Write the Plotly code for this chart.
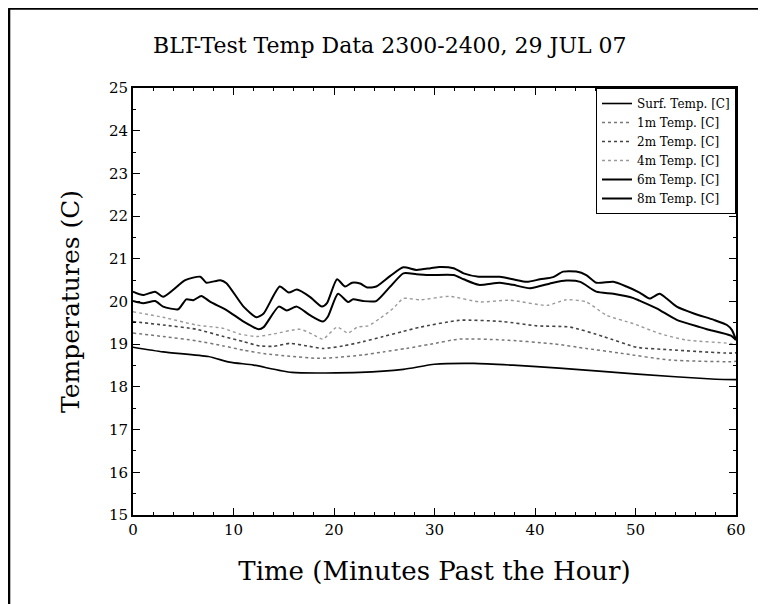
import plotly.graph_objects as go

# ---- data ----
t_8m = [0, 1.0, 2.2, 3.0, 5.2, 6.7, 7.3, 8.7, 9.3, 11.0, 12.3, 13.0, 14.6, 15.5, 16.3, 17.6, 18.8, 19.3,
        20.3, 21.1, 21.8, 22.6, 23.3, 24.2, 25.6, 26.9, 28.2, 29.6, 30.5, 31.9, 32.9, 34.4, 36.5, 37.8,
        39.2, 40.5, 41.8, 42.8, 44.1, 45.1, 46.1, 47.8, 49.1, 50.4, 51.4, 52.4, 53.1, 54.1, 55.8, 57.8,
        59.1, 59.6, 60]
temp_8m = [20.23, 20.15, 20.23, 20.11, 20.50, 20.58, 20.44, 20.50, 20.43, 19.88, 19.63, 19.72, 20.35,
           20.21, 20.28, 20.11, 19.88, 19.96, 20.52, 20.35, 20.44, 20.42, 20.33, 20.35, 20.60, 20.80,
           20.74, 20.78, 20.81, 20.78, 20.66, 20.58, 20.58, 20.52, 20.46, 20.52, 20.57, 20.70, 20.70,
           20.62, 20.44, 20.46, 20.35, 20.21, 20.07, 20.18, 20.07, 19.88, 19.72, 19.57, 19.45, 19.33, 19.10]

t_6m = [0, 1.0, 2.2, 3.0, 4.5, 5.3, 6.0, 6.8, 7.7, 9.3, 11.0, 12.5, 13.0, 14.5, 15.3, 16.3, 17.6, 18.9,
        19.4, 20.4, 21.4, 21.9, 22.9, 24.2, 25.6, 26.9, 28.2, 29.6, 31.9, 32.9, 34.4, 36.5, 37.8, 39.5,
        41.8, 43.1, 44.5, 46.1, 47.8, 49.8, 50.4, 52.1, 54.1, 56.4, 57.1, 59.5, 60]
temp_6m = [20.01, 19.96, 20.01, 19.88, 19.82, 20.05, 20.03, 20.13, 19.99, 19.80, 19.53, 19.35, 19.40,
           19.88, 19.79, 19.88, 19.68, 19.53, 19.65, 20.18, 19.99, 20.05, 20.01, 20.01, 20.35, 20.66,
           20.64, 20.62, 20.62, 20.52, 20.39, 20.44, 20.39, 20.31, 20.44, 20.49, 20.46, 20.23, 20.18,
           20.08, 20.02, 19.84, 19.57, 19.40, 19.35, 19.20, 19.10]

t_4m = [0, 3, 6.3, 9, 10.6, 12.3, 14, 16.6, 17.8, 18.9, 20.3, 21.4, 22.3, 23.4, 24.6, 25.9, 26.9, 28.6,
        31.5, 34.5, 37.5, 41.2, 43.1, 45.1, 47.1, 49.8, 52.4, 55, 59.4, 60]
temp_4m = [19.76, 19.63, 19.45, 19.37, 19.24, 19.18, 19.24, 19.35, 19.24, 19.12, 19.40, 19.26, 19.40,
           19.43, 19.61, 19.84, 20.07, 20.04, 20.12, 19.99, 20.03, 19.91, 20.04, 19.99, 19.68, 19.48,
           19.25, 19.10, 19.02, 19.00]

t_2m = [0, 3, 6.3, 9, 11, 12.6, 14, 15.6, 17.3, 18.9, 20.9, 22.9, 24.9, 26.9, 28.6, 32.5, 36.8, 40.2,
        43.5, 46.8, 50.1, 53.4, 59.4, 60]
temp_2m = [19.53, 19.45, 19.35, 19.18, 19.06, 18.96, 18.95, 19.02, 18.96, 18.90, 18.96, 19.06, 19.18,
           19.30, 19.40, 19.56, 19.53, 19.43, 19.40, 19.18, 18.93, 18.87, 18.79, 18.80]

t_1m = [0, 3, 6.3, 9, 11, 13, 15.6, 18.3, 20.3, 22.9, 24.9, 27.2, 29.6, 32.5, 36.8, 41.8, 45.1, 48.5,
        53.4, 59.4, 60]
temp_1m = [19.26, 19.18, 19.08, 18.96, 18.86, 18.78, 18.72, 18.67, 18.69, 18.75, 18.82, 18.90, 19.00,
           19.12, 19.10, 19.01, 18.90, 18.79, 18.63, 18.59, 18.60]

t_surf = [0, 3, 7.5, 9.6, 12, 15.8, 22.6, 26.9, 30.0, 33.9, 37.8, 42.4, 50.2, 58.0, 60]
temp_surf = [18.93, 18.82, 18.71, 18.58, 18.51, 18.34, 18.34, 18.41, 18.53, 18.55, 18.51, 18.44, 18.30,
             18.18, 18.17]

series_names = ["Surf. Temp. [C]", "1m Temp. [C]", "2m Temp. [C]", "4m Temp. [C]",
                "6m Temp. [C]", "8m Temp. [C]"]

FONT = "DejaVu Serif"

fig = go.Figure()
data = [(t_surf, temp_surf), (t_1m, temp_1m), (t_2m, temp_2m), (t_4m, temp_4m),
        (t_6m, temp_6m), (t_8m, temp_8m)]
styles = [dict(color="black", width=1.6, dash="solid"),
          dict(color="#777777", width=1.5, dash="dot"),
          dict(color="#444444", width=1.6, dash="dot"),
          dict(color="#9a9a9a", width=1.4, dash="dot"),
          dict(color="black", width=2.0, dash="solid"),
          dict(color="black", width=2.0, dash="solid")]
for (tx, ty), name, st in zip(data, series_names, styles):
    fig.add_trace(go.Scatter(x=tx, y=ty, mode="lines", name=name,
                             line=dict(shape="spline", smoothing=0.6, **st)))

# page frame (scanned border)
fig.add_shape(type="line", xref="paper", yref="paper", x0=-0.207, x1=1.06, y0=1.186, y1=1.186,
              line=dict(color="black", width=2.5))
fig.add_shape(type="line", xref="paper", yref="paper", x0=-0.206, x1=-0.206, y0=1.186, y1=-0.22,
              line=dict(color="black", width=3))

fig.add_annotation(text="BLT-Test Temp Data 2300-2400, 29 JUL 07", xref="paper", yref="paper",
                   x=0.426, y=1.10, xanchor="center", yanchor="middle", showarrow=False,
                   font=dict(family=FONT, size=22, color="black"))

fig.update_layout(
    width=758, height=596,
    margin=dict(l=125, r=30, t=80, b=89),
    paper_bgcolor="white", plot_bgcolor="white",
    font=dict(family=FONT, color="black"),
    showlegend=True,
    legend=dict(x=1, y=1, xanchor="right", yanchor="top", bgcolor="white",
                bordercolor="black", borderwidth=1, font=dict(family=FONT, size=12, color="black"),
                tracegroupgap=0, itemwidth=30),
    xaxis=dict(range=[0, 60], dtick=10, tick0=0, showgrid=False, zeroline=False,
               showline=True, linecolor="black", linewidth=2, mirror="ticks",
               ticks="inside", ticklen=7, tickcolor="black", tickwidth=1,
               tickfont=dict(family=FONT, size=15, color="black"),
               minor=dict(dtick=2, ticks="inside", ticklen=3, tickcolor="black"),
               title=dict(text="Time (Minutes Past the Hour)", font=dict(family=FONT, size=26, color="black"),
                          standoff=24)),
    yaxis=dict(range=[15, 25], dtick=1, tick0=15, showgrid=False, zeroline=False,
               showline=True, linecolor="black", linewidth=2, mirror="ticks",
               ticks="inside", ticklen=7, tickcolor="black", tickwidth=1,
               tickfont=dict(family=FONT, size=15, color="black"),
               minor=dict(dtick=0.5, ticks="inside", ticklen=3, tickcolor="black"),
               title=dict(text="Temperatures (C)", font=dict(family=FONT, size=25, color="black"),
                          standoff=22)),
)

fig.write_html("out.html")
